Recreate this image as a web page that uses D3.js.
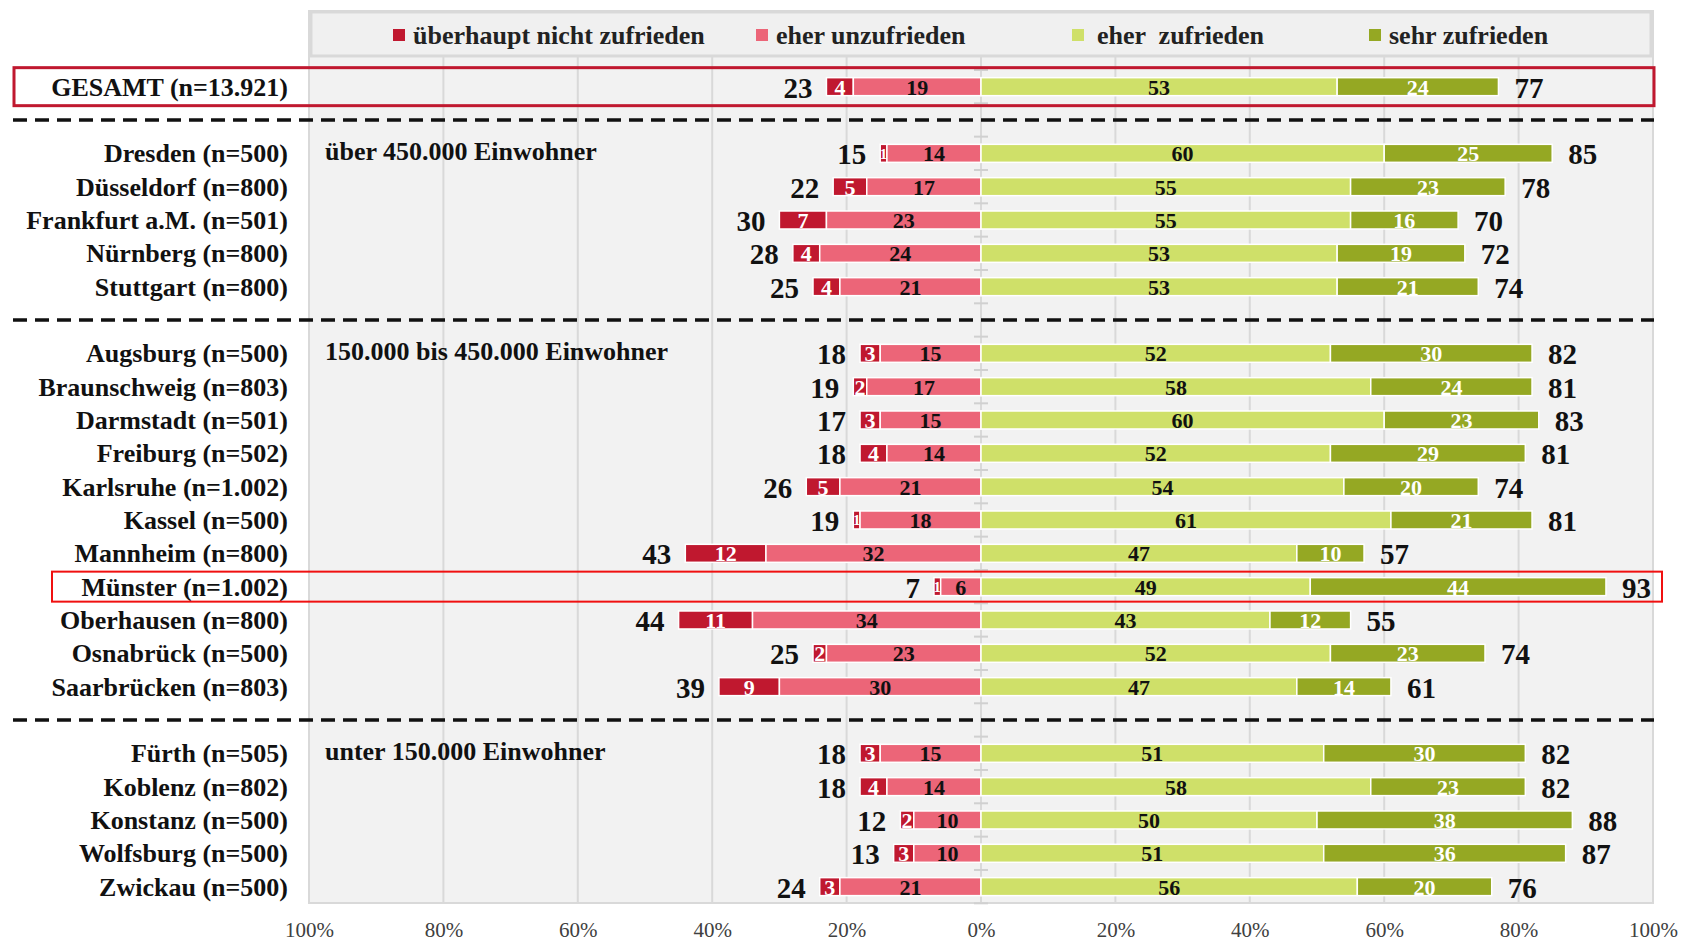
<!DOCTYPE html>
<html>
<head>
<meta charset="utf-8">
<script src="https://cdn.jsdelivr.net/npm/d3@7"></script>
<style>
  body { margin: 0; background: #fff; }
  text { font-family: "Liberation Serif", "Times New Roman", serif; }
</style>
</head>
<body>
<svg width="1686" height="941"></svg>
<script>
// Kategorien (Zeilen von oben nach unten)
const categories = [
    "GESAMT (n=13.921)",
    "Dresden (n=500)", "Düsseldorf (n=800)", "Frankfurt a.M. (n=501)", "Nürnberg (n=800)", "Stuttgart (n=800)",
    "Augsburg (n=500)", "Braunschweig (n=803)", "Darmstadt (n=501)", "Freiburg (n=502)", "Karlsruhe (n=1.002)",
    "Kassel (n=500)", "Mannheim (n=800)", "Münster (n=1.002)", "Oberhausen (n=800)", "Osnabrück (n=500)",
    "Saarbrücken (n=803)",
    "Fürth (n=505)", "Koblenz (n=802)", "Konstanz (n=500)", "Wolfsburg (n=500)", "Zwickau (n=500)"
];

const ueberhauptNicht = [4, 1, 5, 7, 4, 4, 3, 2, 3, 4, 5, 1, 12, 1, 11, 2, 9, 3, 4, 2, 3, 3];
const eherUnzufrieden = [19, 14, 17, 23, 24, 21, 15, 17, 15, 14, 21, 18, 32, 6, 34, 23, 30, 15, 14, 10, 10, 21];
const eherZufrieden   = [53, 60, 55, 55, 53, 53, 52, 58, 60, 52, 54, 61, 47, 49, 43, 52, 47, 51, 58, 50, 51, 56];
const sehrZufrieden   = [24, 25, 23, 16, 19, 21, 30, 24, 23, 29, 20, 21, 10, 44, 12, 23, 14, 30, 23, 38, 36, 20];

const summeUnzufrieden = [23, 15, 22, 30, 28, 25, 18, 19, 17, 18, 26, 19, 43, 7, 44, 25, 39, 18, 18, 12, 13, 24];
const summeZufrieden   = [77, 85, 78, 70, 72, 74, 82, 81, 83, 81, 74, 81, 57, 93, 55, 74, 61, 82, 82, 88, 87, 76];

// Trennlinien nach diesen Zeilen
const breaksAfter = [0, 5, 16];
const groupLabels = [
    { row: 1, text: "über 450.000 Einwohner" },
    { row: 6, text: "150.000 bis 450.000 Einwohner" },
    { row: 17, text: "unter 150.000 Einwohner" }
];
const highlightRows = [13];

const seriesNames = ["überhaupt nicht zufrieden", "eher unzufrieden", "eher  zufrieden", "sehr zufrieden"];
const seriesColors = ["#c0182f", "#ec6578", "#cfe069", "#95a823"];
const tickValues = [-100, -80, -60, -40, -20, 0, 20, 40, 60, 80, 100];

const svg = d3.select("svg");

// Zeilen inkl. Platzhalter fuer Trennlinien
let slots = [];
categories.forEach((c, i) => {
    slots.push("r" + i);
    if (breaksAfter.includes(i)) slots.push("b" + i);
});

const x = d3.scaleLinear().domain([-100, 100]).range([309, 1653]);
const y = d3.scaleBand().domain(slots).range([70, 903.3]).paddingInner(0.46).paddingOuter(0.23);
const step = y.step();

// Hintergrund
svg.append("rect")
    .attr("x", x(-100)).attr("y", 11)
    .attr("width", x(100) - x(-100)).attr("height", 903 - 11)
    .attr("fill", "#f2f2f2")
    .attr("stroke", "#d9d9d9").attr("stroke-width", 2);

// Gitternetz
svg.append("g").selectAll("line")
    .data(tickValues.filter(d => Math.abs(d) < 100))
    .join("line")
    .attr("x1", d => x(d)).attr("x2", d => x(d))
    .attr("y1", 56).attr("y2", 903)
    .attr("stroke", "#d9d9d9").attr("stroke-width", 2);

// Achse bei 0 mit Strichen
svg.append("g").selectAll("line")
    .data(d3.range(slots.length + 1))
    .join("line")
    .attr("x1", x(0) - 7).attr("x2", x(0) + 7)
    .attr("y1", i => y.range()[0] + i * step)
    .attr("y2", i => y.range()[0] + i * step)
    .attr("stroke", "#d0d0d0").attr("stroke-width", 2);

// Legende
svg.append("rect")
    .attr("x", 311).attr("y", 12)
    .attr("width", 1651 - 311).attr("height", 44)
    .attr("fill", "#f0f0f0")
    .attr("stroke", "#d9d9d9").attr("stroke-width", 3);

const legendX = [393, 756, 1072, 1369];
const legend = svg.append("g").selectAll("g")
    .data(seriesNames)
    .join("g")
    .attr("transform", (d, i) => `translate(${legendX[i]},35)`);
legend.append("rect")
    .attr("x", 0).attr("y", -6).attr("width", 12).attr("height", 12)
    .attr("fill", (d, i) => seriesColors[i]);
legend.append("text")
    .attr("x", (d, i) => i == 2 ? 25 : 20)
    .attr("dy", "0.35em")
    .attr("font-size", 26).attr("font-weight", "bold")
    .attr("fill", "#222")
    .style("white-space", "pre")
    .text(d => d);

// Segmente berechnen
let segs = [];
categories.forEach((c, i) => {
    const key = "r" + i;
    const a = ueberhauptNicht[i], b = eherUnzufrieden[i];
    const cc = eherZufrieden[i], d = sehrZufrieden[i];
    segs.push({ key, x0: -(a + b), x1: -b, v: a, s: 0 });
    segs.push({ key, x0: -b, x1: 0, v: b, s: 1 });
    segs.push({ key, x0: 0, x1: cc, v: cc, s: 2 });
    segs.push({ key, x0: cc, x1: cc + d, v: d, s: 3 });
});

const bars = svg.append("g");
bars.selectAll("rect")
    .data(segs)
    .join("rect")
    .attr("x", d => x(d.x0))
    .attr("y", d => y(d.key))
    .attr("width", d => x(d.x1) - x(d.x0))
    .attr("height", y.bandwidth())
    .attr("fill", d => seriesColors[d.s])
    .attr("stroke", "#fff").attr("stroke-width", 1.5);

bars.selectAll("text")
    .data(segs)
    .join("text")
    .attr("x", d => (x(d.x0) + x(d.x1)) / 2)
    .attr("y", d => y(d.key) + y.bandwidth() / 2)
    .attr("dy", "0.36em")
    .attr("text-anchor", "middle")
    .attr("font-size", d => d.v < 2 ? 15 : 22)
    .attr("font-weight", "bold")
    .attr("fill", d => (d.s == 0 || d.s == 3) ? "#fff" : "#111")
    .text(d => d.v);

// Summen
const totals = svg.append("g");
categories.forEach((c, i) => {
    const cy = y("r" + i) + y.bandwidth() / 2;
    totals.append("text")
        .attr("x", x(-(ueberhauptNicht[i] + eherUnzufrieden[i])) - 14)
        .attr("y", cy).attr("dy", "0.38em")
        .attr("text-anchor", "end")
        .attr("font-size", 29).attr("font-weight", "bold").attr("fill", "#111")
        .text(summeUnzufrieden[i]);
    totals.append("text")
        .attr("x", x(eherZufrieden[i] + sehrZufrieden[i]) + 16)
        .attr("y", cy).attr("dy", "0.38em")
        .attr("text-anchor", "start")
        .attr("font-size", 29).attr("font-weight", "bold").attr("fill", "#111")
        .text(summeZufrieden[i]);
});

// Kategorienbeschriftung
svg.append("g").selectAll("text")
    .data(categories)
    .join("text")
    .attr("x", 288)
    .attr("y", (d, i) => y("r" + i) + y.bandwidth() / 2)
    .attr("dy", "0.35em")
    .attr("text-anchor", "end")
    .attr("font-size", 26).attr("font-weight", "bold").attr("fill", "#111")
    .text(d => d);

// Gruppentitel
svg.append("g").selectAll("text")
    .data(groupLabels)
    .join("text")
    .attr("x", 325)
    .attr("y", d => y("r" + d.row) + y.bandwidth() / 2 - 2)
    .attr("dy", "0.35em")
    .attr("font-size", 26).attr("font-weight", "bold").attr("fill", "#111")
    .text(d => d.text);

// Trennlinien
svg.append("g").selectAll("line")
    .data(breaksAfter)
    .join("line")
    .attr("x1", 13).attr("x2", 1654)
    .attr("y1", d => y("b" + d) + y.bandwidth() / 2)
    .attr("y2", d => y("b" + d) + y.bandwidth() / 2)
    .attr("stroke", "#111").attr("stroke-width", 3.5)
    .attr("stroke-dasharray", "14,8");

// Rahmen GESAMT und Hervorhebung
const cy0 = y("r0") + y.bandwidth() / 2;
svg.append("rect")
    .attr("x", 14).attr("y", cy0 - 19)
    .attr("width", 1654 - 14).attr("height", 38)
    .attr("fill", "none")
    .attr("stroke", "#c0182f").attr("stroke-width", 3);

svg.append("g").selectAll("rect")
    .data(highlightRows)
    .join("rect")
    .attr("x", 52)
    .attr("y", d => y("r" + d) + y.bandwidth() / 2 - 15)
    .attr("width", 1662 - 52).attr("height", 30)
    .attr("fill", "none")
    .attr("stroke", "#f01010").attr("stroke-width", 2);

// x-Achse
const xAxis = d3.axisBottom(x)
    .tickValues(tickValues)
    .tickSize(0)
    .tickPadding(0)
    .tickFormat(d => Math.abs(d) + "%");

const axisG = svg.append("g")
    .attr("transform", "translate(0,930)")
    .call(xAxis);
axisG.select(".domain").remove();
axisG.selectAll("text")
    .attr("dy", "0.35em")
    .attr("font-family", "Liberation Serif, serif")
    .attr("font-size", 21)
    .attr("fill", "#404040");
</script>
</body>
</html>
